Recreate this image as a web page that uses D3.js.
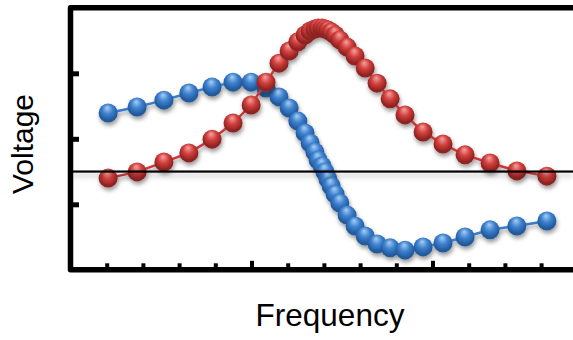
<!DOCTYPE html>
<html>
<head>
<meta charset="utf-8">
<script src="https://cdn.jsdelivr.net/npm/d3@7/dist/d3.min.js"></script>
<style>
  html, body { margin: 0; padding: 0; background: #fff; }
  svg { display: block; }
  text { font-family: "Liberation Sans", Arial, sans-serif; fill: #000; }
</style>
</head>
<body>
<svg id="chart" width="573" height="340"></svg>
<script>
// Frequency sweep through a resonance: in-phase and quadrature voltage
const frequency = [1.04, 1.84, 2.58, 3.27, 3.91, 4.49, 4.99, 5.40, 5.76, 6.04,
  6.28, 6.48, 6.62, 6.75, 6.84, 6.95, 7.03, 7.11, 7.20, 7.31,
  7.44, 7.64, 7.86, 8.14, 8.47, 8.83, 9.24, 9.74, 10.29, 10.90,
  11.59, 12.33, 13.16];
const dispersive = [1.79, 1.97, 2.18, 2.40, 2.58, 2.73, 2.73, 2.55, 2.28, 1.94,
  1.54, 1.18, 0.87, 0.60, 0.35, 0.17, -0.01, -0.23, -0.44, -0.69,
  -0.96, -1.33, -1.66, -1.97, -2.21, -2.33, -2.40, -2.30, -2.18, -2.00,
  -1.78, -1.66, -1.51];
const absorptive = [-0.20, -0.01, 0.29, 0.57, 0.99, 1.48, 2.03, 2.73, 3.31, 3.68,
  3.96, 4.17, 4.29, 4.35, 4.38, 4.38, 4.35, 4.32, 4.26, 4.17,
  4.02, 3.80, 3.53, 3.16, 2.70, 2.22, 1.73, 1.21, 0.84, 0.51,
  0.26, 0.02, -0.14];
const xMinorTicks = d3.range(1, 14);
const xMajorTicks = [5, 10];
const yTicks = [-1, 1, 3];
const xLabel = "Frequency";
const yLabel = "Voltage";

const svg = d3.select("#chart");
const x = d3.scaleLinear().domain([0, 14]).range([70.5, 577.3]);
const y = d3.scaleLinear().domain([-3, 5]).range([269.8, 7.8]);

const defs = svg.append("defs");
function sphere(id, light, base, dark) {
  const g = defs.append("radialGradient").attr("id", id)
    .attr("cx", "50%").attr("cy", "40%").attr("r", "60%")
    .attr("fx", "45%").attr("fy", "22%");
  g.append("stop").attr("offset", "0%").attr("stop-color", light);
  g.append("stop").attr("offset", "45%").attr("stop-color", base);
  g.append("stop").attr("offset", "85%").attr("stop-color", dark);
  g.append("stop").attr("offset", "100%").attr("stop-color", dark);
}
sphere("ballBlue", "#a9cdf2", "#3d82d0", "#245a9c");
sphere("ballRed", "#f3a3a0", "#d23f3c", "#8f2322");

const shadow = defs.append("filter").attr("id", "drop")
  .attr("x", "-50%").attr("y", "-50%").attr("width", "200%").attr("height", "200%");
shadow.append("feDropShadow").attr("dx", 1).attr("dy", 3)
  .attr("stdDeviation", 2).attr("flood-color", "#000").attr("flood-opacity", 0.4);

const lineShadow = defs.append("filter").attr("id", "lineDrop")
  .attr("filterUnits", "userSpaceOnUse")
  .attr("x", 0).attr("y", 0).attr("width", 573).attr("height", 340);
lineShadow.append("feDropShadow").attr("dx", 0).attr("dy", 4)
  .attr("stdDeviation", 2.5).attr("flood-color", "#000").attr("flood-opacity", 0.25);

// Frame: left, top and bottom rails
const [x0, x1] = [x.range()[0], 573];
svg.append("path")
  .attr("d", `M${x1},${y.range()[1]}L${x0},${y.range()[1]}L${x0},${y.range()[0]}L${x1},${y.range()[0]}`)
  .attr("fill", "none").attr("stroke", "#000").attr("stroke-width", 5.5)
  .attr("stroke-linejoin", "round");

// Inward tick marks
function styleTicks(g, width) {
  g.select(".domain").remove();
  g.selectAll(".tick text").remove();
  g.selectAll(".tick line").attr("stroke", "#000").attr("stroke-width", width);
}
svg.append("g").attr("transform", `translate(0,${y.range()[0]})`)
  .call(d3.axisBottom(x).tickValues(xMinorTicks.filter(t => !xMajorTicks.includes(t))).tickSize(-6.5))
  .call(g => styleTicks(g, 4));
svg.append("g").attr("transform", `translate(0,${y.range()[0]})`)
  .call(d3.axisBottom(x).tickValues(xMajorTicks).tickSize(-9))
  .call(g => styleTicks(g, 4));
svg.append("g").attr("transform", `translate(${x0},0)`)
  .call(d3.axisLeft(y).tickValues(yTicks).tickSize(-8.5))
  .call(g => styleTicks(g, 5));

// Series: connecting line plus shaded spheres
const line = d3.line().x(d => x(d[0])).y(d => y(d[1]));
function series(values, color, grad) {
  const pts = frequency.map((f, i) => [f, values[i]]);
  const g = svg.append("g").attr("filter", "url(#drop)");
  g.append("path").datum(pts).attr("d", line)
    .attr("fill", "none").attr("stroke", color).attr("stroke-width", 2.5);
  g.selectAll("circle").data(pts).join("circle")
    .attr("cx", d => x(d[0])).attr("cy", d => y(d[1])).attr("r", 9.5)
    .attr("fill", `url(#${grad})`);
}
series(dispersive, "#3a7cc8", "ballBlue");
series(absorptive, "#c8383a", "ballRed");

// Zero reference line
svg.append("rect")
  .attr("x", x0).attr("width", x1 - x0).attr("y", y(0) - 1.1).attr("height", 2.2)
  .attr("fill", "#000")
  .attr("filter", "url(#lineDrop)");

// Axis titles
svg.append("text").attr("x", 330).attr("y", 326).attr("text-anchor", "middle")
  .attr("font-size", 31.5).text(xLabel);
svg.append("text").attr("transform", "translate(33,144) rotate(-90)")
  .attr("text-anchor", "middle").attr("font-size", 30).text(yLabel);
</script>
</body>
</html>
